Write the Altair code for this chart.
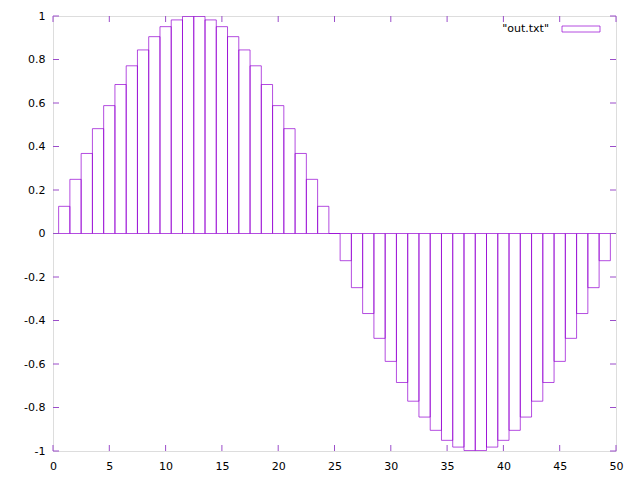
import altair as alt
import pandas as pd

# data
xs = list(range(51))
vals = [0, 0.125, 0.249, 0.368, 0.482, 0.588, 0.685, 0.771, 0.844, 0.905,
        0.951, 0.982, 0.998, 0.998, 0.982, 0.951, 0.905, 0.844, 0.771, 0.685,
        0.588, 0.482, 0.368, 0.249, 0.125, 0, -0.125, -0.249, -0.368, -0.482,
        -0.588, -0.685, -0.771, -0.844, -0.905, -0.951, -0.982, -0.998, -0.998, -0.982,
        -0.951, -0.905, -0.844, -0.771, -0.685, -0.588, -0.482, -0.368, -0.249, -0.125,
        0]
x_ticks = [0, 5, 10, 15, 20, 25, 30, 35, 40, 45, 50]
y_ticks = [-1, -0.8, -0.6, -0.4, -0.2, 0, 0.2, 0.4, 0.6, 0.8, 1]
series_name = '"out.txt"'

W, H = 563, 435
PURPLE = "#9400d3"
TICK = "#9b4dca"
FONT = "DejaVu Sans"
FS = 11

df = pd.DataFrame({"x": xs, "v": vals})
xt = pd.DataFrame({"t": x_ticks})
yt = pd.DataFrame({"t": y_ticks})

xscale = alt.Scale(domain=[0, 50], nice=False, zero=False)
yscale = alt.Scale(domain=[-1, 1], nice=False, zero=False)

label_expr = "datum.value < 0 ? '-' + format(-datum.value, '~g') : format(datum.value, '~g')"

xaxis = alt.Axis(values=x_ticks, tickSize=0, grid=False, domain=False, title=None,
                 labelFont=FONT, labelFontSize=FS, labelColor="#000", labelPadding=9,
                 labelFlush=False, labelOverlap=False, labelExpr=label_expr)
yaxis = alt.Axis(values=y_ticks, tickSize=0, grid=False, domain=False, title=None,
                 labelFont=FONT, labelFontSize=FS, labelColor="#000", labelPadding=8,
                 labelFlush=False, labelOverlap=False, labelExpr=label_expr)

boxes = alt.Chart(df).transform_calculate(
    x0="datum.x - 0.5", x1="datum.x + 0.5", z="0"
).mark_rect(fillOpacity=0, stroke=PURPLE, strokeWidth=1, strokeOpacity=0.7, clip=True).encode(
    x=alt.X("x0:Q", scale=xscale, axis=xaxis),
    x2="x1:Q",
    y=alt.Y("v:Q", scale=yscale, axis=yaxis),
    y2="z:Q",
)

tb = alt.Chart(xt).mark_rule(color=TICK, strokeWidth=1).encode(
    x=alt.X("t:Q", scale=xscale, axis=xaxis), y=alt.value(H), y2=alt.value(H - 6))
tt = alt.Chart(xt).mark_rule(color=TICK, strokeWidth=1).encode(
    x=alt.X("t:Q", scale=xscale, axis=xaxis), y=alt.value(0), y2=alt.value(6))
tl = alt.Chart(yt).mark_rule(color=TICK, strokeWidth=1).encode(
    y=alt.Y("t:Q", scale=yscale, axis=yaxis), x=alt.value(0), x2=alt.value(6))
tr = alt.Chart(yt).mark_rule(color=TICK, strokeWidth=1).encode(
    y=alt.Y("t:Q", scale=yscale, axis=yaxis), x=alt.value(W), x2=alt.value(W - 6))

leg_df = pd.DataFrame({"name": [series_name]})
leg_text = alt.Chart(leg_df).mark_text(align="right", baseline="middle", font=FONT,
                                       fontSize=FS, color="#000").encode(
    text="name:N", x=alt.value(496), y=alt.value(13))
leg_box = alt.Chart(leg_df).mark_rect(fillOpacity=0, stroke=PURPLE, strokeWidth=1,
                                      strokeOpacity=0.7).encode(
    x=alt.value(509), x2=alt.value(547), y=alt.value(10), y2=alt.value(16))

chart = alt.layer(boxes, tb, tt, tl, tr, leg_text, leg_box).properties(
    width=W, height=H,
    autosize=alt.AutoSizeParams(type="none"),
    padding={"left": 45, "top": 8, "right": 16, "bottom": 21},
).configure_view(stroke="#000", strokeWidth=1).configure(background="white")

chart.save("out.html", embed_options={"renderer": "svg", "actions": False})
